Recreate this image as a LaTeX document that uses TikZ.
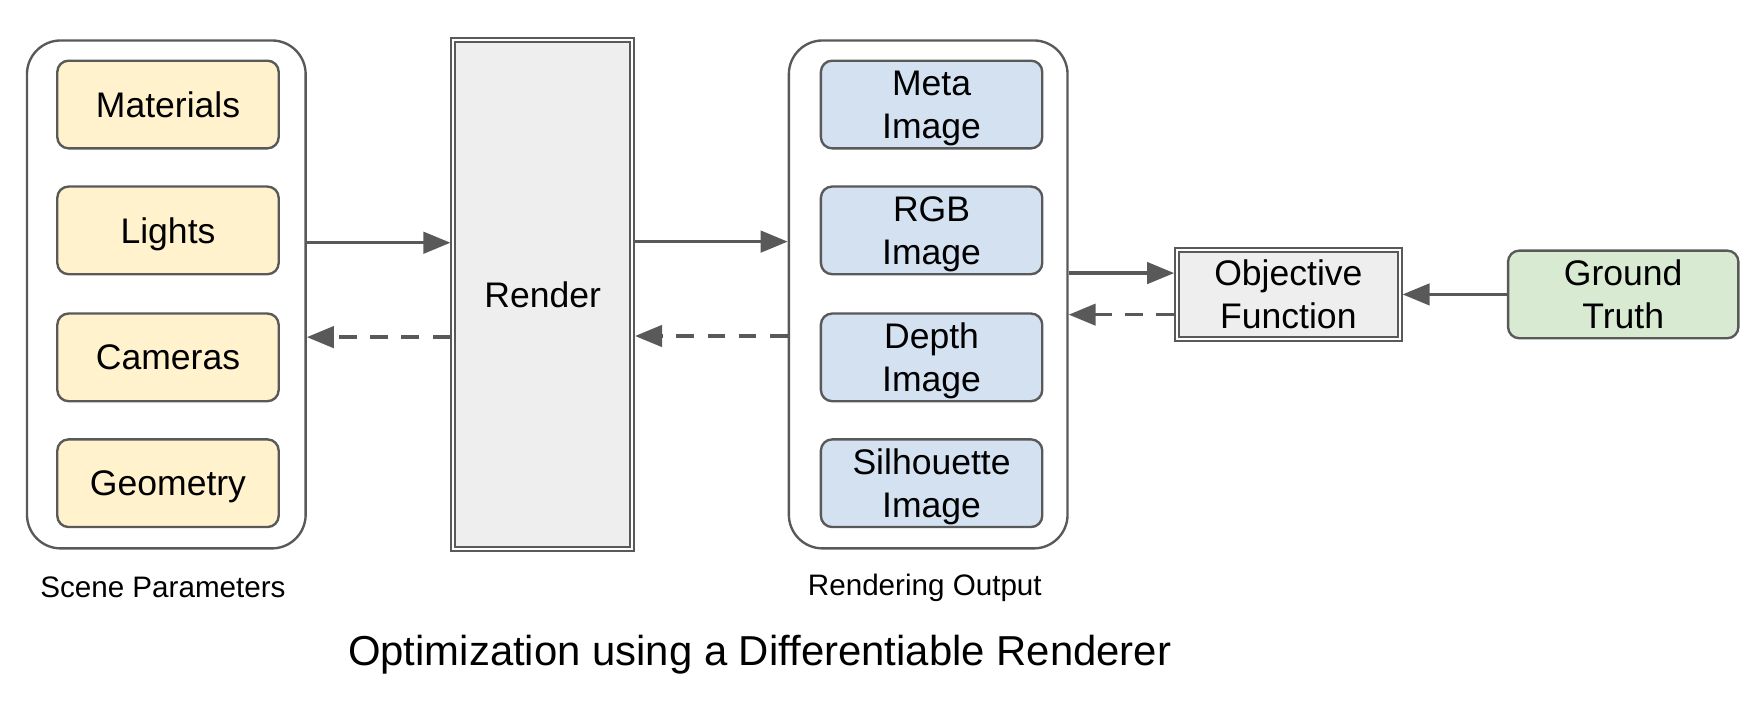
\documentclass[tikz,border=0pt]{standalone}
\usepackage{fontspec}
\setmainfont{Liberation Sans}
\usetikzlibrary{arrows.meta}

\definecolor{linegray}{HTML}{595959}
\definecolor{paramyellow}{HTML}{FFF2CC}
\definecolor{outputblue}{HTML}{D4E1F1}
\definecolor{truthgreen}{HTML}{D9EAD3}
\definecolor{procgray}{HTML}{EEEEEE}

\newcommand{\boxfont}{\fontsize{9}{10.8}\selectfont}

\begin{document}
\begin{tikzpicture}[
    group/.style={rounded corners=0.3cm, draw=linegray, line width=0.6pt, fill=white, minimum width=2.48cm, minimum height=4.52cm},
    param/.style={rounded corners=0.1cm, draw=linegray, line width=0.6pt, fill=paramyellow, minimum width=1.97cm, minimum height=0.78cm, inner sep=0pt, text depth=0pt, align=center, font=\boxfont},
    output/.style={param, fill=outputblue},
    truth/.style={param, fill=truthgreen, minimum width=2.05cm},
    proc/.style={draw=linegray, line width=0.5pt, double=white, double distance=0.5pt, fill=procgray, outer sep=0.75pt, inner sep=0pt, text depth=0pt, align=center, font=\boxfont},
    flow/.style={-{Triangle[length=0.24cm, width=0.19cm]}, draw=linegray, line width=0.85pt},
    back/.style={flow, dash pattern=on 4.5pt off 3.4pt},
    caption/.style={font=\fontsize{7.5}{9}\selectfont}
]
\useasboundingbox (0,0) rectangle (15.68,6.25);

% scene parameters
\node[group] (scene) at (1.48,3.63) {};
\node[param] (materials) at (1.495,5.32) {Materials};
\node[param] (lights) at (1.495,4.20) {Lights};
\node[param] (cameras) at (1.495,3.07) {Cameras};
\node[param] (geometry) at (1.495,1.95) {Geometry};
\node[caption] (scenelbl) at (1.45,1.02) {Scene Parameters};

% renderer
\node[proc, minimum width=1.59cm, minimum height=4.53cm] (render) at (4.83,3.63) {Render};

% rendering output
\node[group] (out) at (8.26,3.63) {};
\node[output] (meta) at (8.29,5.32) {Meta\\Image};
\node[output] (rgb) at (8.29,4.20) {RGB\\Image};
\node[output] (depth) at (8.29,3.07) {Depth\\Image};
\node[output] (silhouette) at (8.29,1.95) {Silhouette\\Image};
\node[caption] (outlbl) at (8.23,1.02) {Rendering Output};

% loss
\node[proc, minimum width=1.98cm, minimum height=0.79cm] (objective) at (11.465,3.63) {Objective\\Function};
\node[truth] (truth) at (14.445,3.63) {Ground\\Truth};

\draw[flow] ([yshift=0.46cm]scene.east) -- ([yshift=0.46cm]render.west);
\draw[back] ([yshift=-0.38cm]render.west) -- ([yshift=-0.38cm]scene.east);
\draw[flow] ([yshift=0.47cm]render.east) -- ([yshift=0.47cm]out.west);
\draw[back] ([yshift=-0.37cm]out.west) -- ([yshift=-0.37cm]render.east);
\draw[flow] ([yshift=0.19cm]out.east) -- ([yshift=0.19cm]objective.west);
\draw[back] ([yshift=-0.18cm]objective.west) -- ([yshift=-0.18cm]out.east);
\draw[flow] (truth) -- (objective);

\node[font=\fontsize{10.6}{12.7}\selectfont] (title) at (6.76,0.42) {Optimization using a Differentiable Renderer};

\end{tikzpicture}
\end{document}
